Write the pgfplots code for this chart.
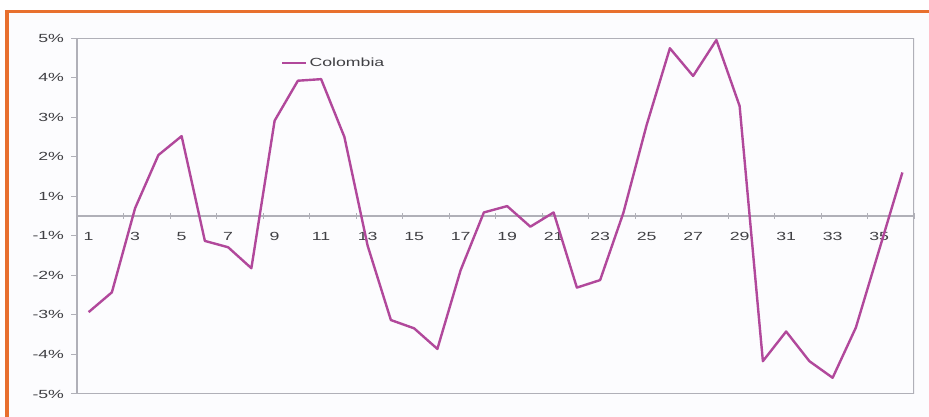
\documentclass[border=0pt]{standalone}
\usepackage{pgfplots}
\pgfplotsset{compat=1.18}
\usepackage{fontspec}
\setmainfont{Liberation Sans}[FakeStretch=1.5]
\definecolor{linecol}{RGB}{177,72,155}
\definecolor{axisgray}{RGB}{176,176,184}
\definecolor{labgray}{RGB}{64,64,68}
\definecolor{framecol}{RGB}{232,112,46}
\definecolor{bgcol}{RGB}{252,252,254}
\begin{document}
\begin{tikzpicture}
\path[use as bounding box] (0,0) rectangle (929bp,417bp);
\fill[white] (0,0) rectangle (929bp,417bp);
\fill[bgcol] (7bp,0) rectangle (929bp,405.5bp);
\draw[framecol, line width=3.5bp] (7bp,0) -- (7bp,405.5bp) -- (929bp,405.5bp);
\begin{axis}[
  scale only axis, width=837bp, height=356bp,
  at={(77bp,23bp)}, anchor=south west,
  xmin=0.5, xmax=36.5, ymin=-4.5, ymax=4.5,
  axis x line*=middle, axis y line*=left,
  axis line style={draw=axisgray, line width=1.3bp},
  every tick/.style={draw=axisgray, line width=1bp},
  major tick length=5.5bp,
  xtick align=center, ytick align=outside,
  xtick={2.5,4.5,...,36.5}, xticklabels={},
  extra x ticks={1,3,...,35},
  extra x tick style={major tick length=0pt},
  ytick={-4.5,-3.5,...,4.5},
  yticklabels={-5\%,-4\%,-3\%,-2\%,-1\%,1\%,2\%,3\%,4\%,5\%},
  /pgf/number format/assume math mode=true,
  tick label style={font=\fontsize{11.8bp}{13bp}\selectfont, text=labgray},
  xticklabel style={yshift=-13bp},
  yticklabel style={xshift=-4bp},
  legend style={at={(rel axis cs:0.2437,0.93)}, anchor=west, draw=none, fill=none,
    inner sep=0pt, font=\fontsize{11.8bp}{13bp}\selectfont, text=labgray,
    nodes={inner sep=2bp}},
  legend image code/.code={\draw[#1] (0bp,0bp) -- (24bp,0bp);},
]
\draw[axisgray, line width=1.3bp] (rel axis cs:0,0) rectangle (rel axis cs:1,1);
\addplot[linecol, line width=2.4bp, line join=round] coordinates {
(1,-2.43) (2,-1.93) (3,0.20) (4,1.54) (5,2.02) (6,-0.63) (7,-0.79) (8,-1.32)
(9,2.41) (10,3.42) (11,3.46) (12,2.00) (13,-0.75) (14,-2.63) (15,-2.84) (16,-3.36)
(17,-1.37) (18,0.09) (19,0.25) (20,-0.27) (21,0.09) (22,-1.81) (23,-1.62) (24,0.08)
(25,2.30) (26,4.24) (27,3.54) (28,4.45) (29,2.78) (30,-3.67) (31,-2.92) (32,-3.67)
(33,-4.09) (34,-2.82) (35,-0.86) (36,1.10)
};
\addlegendentry{Colombia}
\end{axis}
\end{tikzpicture}
\end{document}
